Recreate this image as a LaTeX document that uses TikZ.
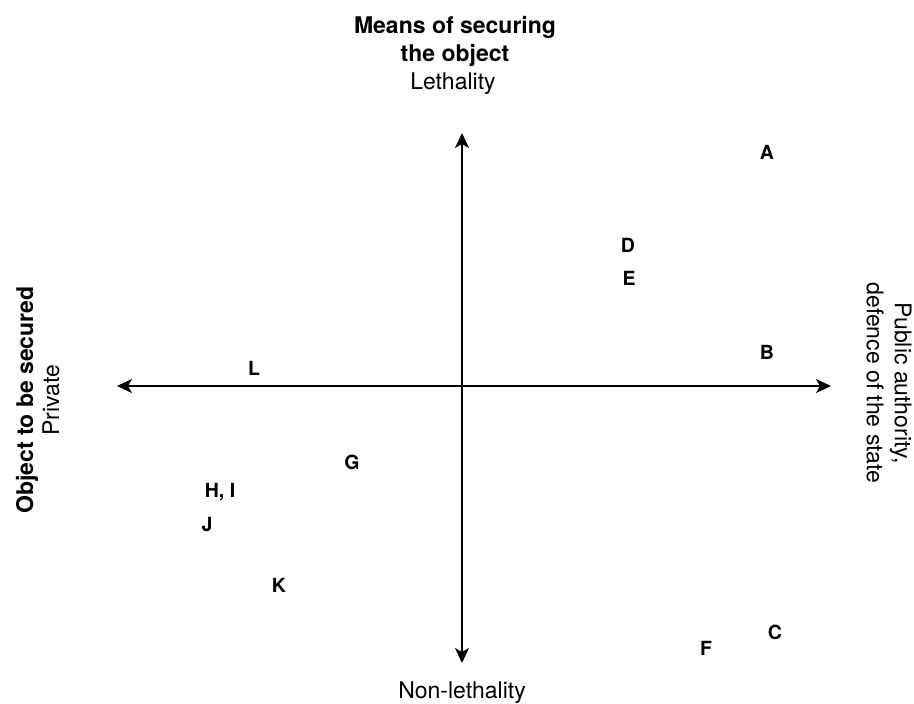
\documentclass[tikz,border=0pt]{standalone}
\usepackage{fontspec}
\setmainfont{TeX Gyre Heros}
\usepackage{tikz}
\usetikzlibrary{arrows.meta,positioning}
\tikzset{
  axisline/.style={{Stealth[length=15pt,width=14pt,inset=4pt]}-{Stealth[length=15pt,width=14pt,inset=4pt]},line width=1.4pt,draw=black},
  axistext/.style={align=center,inner sep=0pt,font=\fontsize{23}{28}\selectfont},
  axistitle/.style={axistext,font=\fontsize{23}{28}\selectfont\bfseries},
  casemark/.style={inner sep=0pt,font=\fontsize{19.5}{22}\selectfont\bfseries}
}
\begin{document}
\begin{tikzpicture}[x=1pt,y=-1pt]
\useasboundingbox (0,0) rectangle (914,704);
% axes
\coordinate (west) at (117,386);
\coordinate (east) at (831,386);
\coordinate (north) at (462,133);
\coordinate (south) at (462,663);
\draw[axisline] (west)--(east);
\draw[axisline] (north)--(south);
% axis labels
\node[axistitle] (means) at (455,41) {Means of securing\\the object};
\node[axistext] (lethal) at (453,84) {Lethality};
\node[axistext,anchor=north] (nonlethal) at (462,682) {Non-lethality};
\node[axistitle,rotate=90] (object) at (27,400) {Object to be secured};
\node[axistext,rotate=90] (private) at (51,400) {Private};
\node[axistext,rotate=-90] (public) at (889,383) {Public authority,\\defence of the state};
% cases
\node[casemark] (A) at (767,152) {A};
\node[casemark] (B) at (767,352) {B};
\node[casemark] (C) at (775,632) {C};
\node[casemark] (D) at (628,245) {D};
\node[casemark] (E) at (629,278) {E};
\node[casemark] (F) at (706,648) {F};
\node[casemark] (G) at (352,462) {G};
\node[casemark] (HI) at (220,492) {H, I};
\node[casemark] (J) at (207,525) {J};
\node[casemark] (K) at (279,585) {K};
\node[casemark] (L) at (254,368) {L};
\end{tikzpicture}
\end{document}
